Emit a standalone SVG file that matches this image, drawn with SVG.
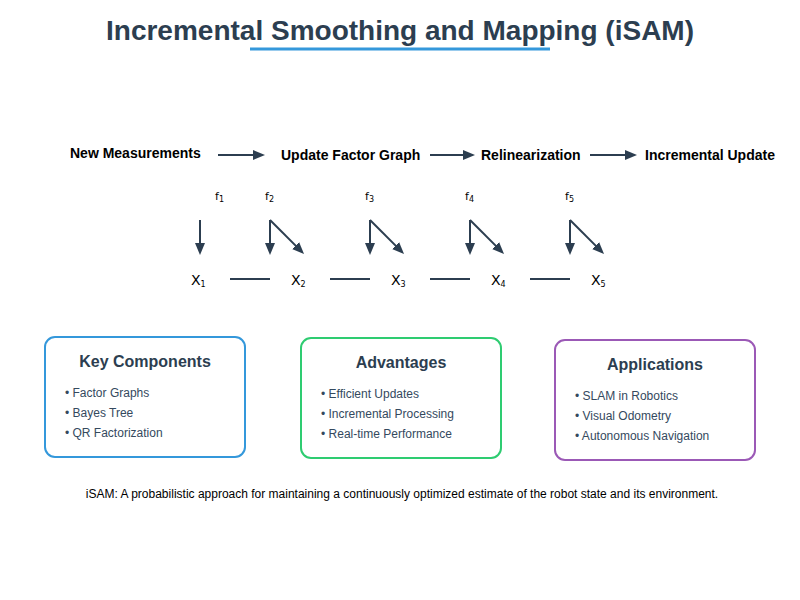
<svg xmlns="http://www.w3.org/2000/svg" width="800" height="600" viewBox="0 0 800 600">
  <style>
    .title { font-family: "Liberation Sans", Arial, sans-serif; font-size: 28px; font-weight: bold; fill: #2c3e50; }
    .step { font-family: "Liberation Sans", Arial, sans-serif; font-size: 14px; font-weight: bold; fill: #000; }
    .lbl { font-family: "DejaVu Sans", sans-serif; font-size: 14px; fill: #000; }
    .flbl { font-family: "DejaVu Sans", sans-serif; font-size: 11px; fill: #000; }
    .sub { font-size: 8px; }
    .conn { stroke: #2c3e50; stroke-width: 2; fill: none; }
    .box { fill: #fff; stroke-width: 2; }
    .btitle { font-family: "Liberation Sans", Arial, sans-serif; font-size: 16px; font-weight: bold; fill: #2c3e50; text-anchor: middle; }
    .item { font-family: "Liberation Sans", Arial, sans-serif; font-size: 12px; fill: #34495e; }
    .foot { font-family: "Liberation Sans", Arial, sans-serif; font-size: 12px; fill: #000; text-anchor: middle; }
  </style>
  <defs>
    <marker id="ah" viewBox="0 0 12 10" markerWidth="12" markerHeight="10" refX="9" refY="5" orient="auto" markerUnits="userSpaceOnUse">
      <path d="M0,0 L12,5 L0,10 z" fill="#2c3e50"/>
    </marker>
  </defs>
  <rect width="800" height="600" fill="#fff"/>

  <g id="title">
    <text class="title" x="400" y="40" text-anchor="middle">Incremental Smoothing and Mapping (iSAM)</text>
    <line x1="250" y1="49" x2="550" y2="49" stroke="#3498db" stroke-width="3"/>
  </g>

  <g id="step-new-measurements"><text class="step" x="70" y="158">New Measurements</text></g>
  <g id="step-update-factor-graph"><text class="step" x="281" y="160">Update Factor Graph</text></g>
  <g id="step-relinearization"><text class="step" x="481" y="160">Relinearization</text></g>
  <g id="step-incremental-update"><text class="step" x="645" y="160">Incremental Update</text></g>

  <g id="f1"><text class="flbl" x="215" y="200">f<tspan class="sub" dy="2">1</tspan></text></g>
  <g id="f2"><text class="flbl" x="265" y="200">f<tspan class="sub" dy="2">2</tspan></text></g>
  <g id="f3"><text class="flbl" x="365" y="200">f<tspan class="sub" dy="2">3</tspan></text></g>
  <g id="f4"><text class="flbl" x="465" y="200">f<tspan class="sub" dy="2">4</tspan></text></g>
  <g id="f5"><text class="flbl" x="565" y="200">f<tspan class="sub" dy="2">5</tspan></text></g>

  <g id="x1"><text class="lbl" x="191" y="285">X<tspan class="sub" font-size="9" dy="2">1</tspan></text></g>
  <g id="x2"><text class="lbl" x="291" y="285">X<tspan class="sub" font-size="9" dy="2">2</tspan></text></g>
  <g id="x3"><text class="lbl" x="391" y="285">X<tspan class="sub" font-size="9" dy="2">3</tspan></text></g>
  <g id="x4"><text class="lbl" x="491" y="285">X<tspan class="sub" font-size="9" dy="2">4</tspan></text></g>
  <g id="x5"><text class="lbl" x="591" y="285">X<tspan class="sub" font-size="9" dy="2">5</tspan></text></g>

  <g id="connectors">
    <line class="conn" x1="218" y1="155" x2="262" y2="155" marker-end="url(#ah)"/>
    <line class="conn" x1="430" y1="155" x2="472" y2="155" marker-end="url(#ah)"/>
    <line class="conn" x1="590" y1="155" x2="634" y2="155" marker-end="url(#ah)"/>

    <line class="conn" x1="200" y1="220" x2="200" y2="252" marker-end="url(#ah)"/>
    <line class="conn" x1="270" y1="220" x2="270" y2="252" marker-end="url(#ah)"/>
    <line class="conn" x1="270" y1="220" x2="301.9" y2="251.9" marker-end="url(#ah)"/>
    <line class="conn" x1="370" y1="220" x2="370" y2="252" marker-end="url(#ah)"/>
    <line class="conn" x1="370" y1="220" x2="401.9" y2="251.9" marker-end="url(#ah)"/>
    <line class="conn" x1="470" y1="220" x2="470" y2="252" marker-end="url(#ah)"/>
    <line class="conn" x1="470" y1="220" x2="501.9" y2="251.9" marker-end="url(#ah)"/>
    <line class="conn" x1="570" y1="220" x2="570" y2="252" marker-end="url(#ah)"/>
    <line class="conn" x1="570" y1="220" x2="601.9" y2="251.9" marker-end="url(#ah)"/>

    <line class="conn" x1="230" y1="279" x2="270" y2="279"/>
    <line class="conn" x1="330" y1="279" x2="370" y2="279"/>
    <line class="conn" x1="430" y1="279" x2="470" y2="279"/>
    <line class="conn" x1="530" y1="279" x2="570" y2="279"/>
  </g>

  <g id="key-components">
    <rect class="box" x="45" y="337" width="200" height="120" rx="10" stroke="#3498db"/>
    <text class="btitle" x="145" y="367">Key Components</text>
    <text class="item" x="65" y="397">• Factor Graphs</text>
    <text class="item" x="65" y="417">• Bayes Tree</text>
    <text class="item" x="65" y="437">• QR Factorization</text>
  </g>

  <g id="advantages">
    <rect class="box" x="301" y="338" width="200" height="120" rx="10" stroke="#2ecc71"/>
    <text class="btitle" x="401" y="368">Advantages</text>
    <text class="item" x="321" y="398">• Efficient Updates</text>
    <text class="item" x="321" y="418">• Incremental Processing</text>
    <text class="item" x="321" y="438">• Real-time Performance</text>
  </g>

  <g id="applications">
    <rect class="box" x="555" y="340" width="200" height="120" rx="10" stroke="#9b59b6"/>
    <text class="btitle" x="655" y="370">Applications</text>
    <text class="item" x="575" y="400">• SLAM in Robotics</text>
    <text class="item" x="575" y="420">• Visual Odometry</text>
    <text class="item" x="575" y="440">• Autonomous Navigation</text>
  </g>

  <g id="footer">
    <text class="foot" x="402" y="498">iSAM: A probabilistic approach for maintaining a continuously optimized estimate of the robot state and its environment.</text>
  </g>
</svg>
